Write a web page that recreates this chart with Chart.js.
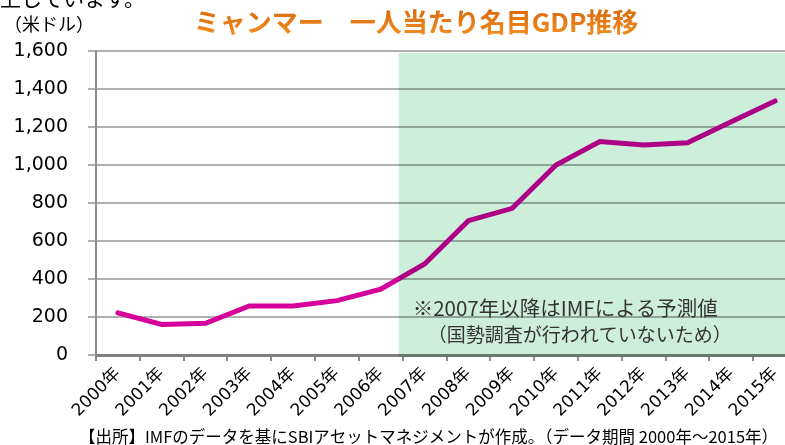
<!DOCTYPE html>
<html lang="ja">
<head>
<meta charset="utf-8">
<script src="https://cdn.jsdelivr.net/npm/chart.js@4.4.1/dist/chart.umd.min.js"></script>
<style>
    html, body { margin: 0; padding: 0; background: #FFFFFF; overflow: hidden; }
    #wrap { width: 785px; height: 445px; overflow: hidden; }
</style>
</head>
<body>
<div id="wrap"><canvas id="gdpChart" width="800" height="445"></canvas></div>
<script>
// =====================================================
// Data: Myanmar nominal GDP per capita (USD)
// =====================================================

const years = [2000, 2001, 2002, 2003, 2004, 2005, 2006, 2007,
               2008, 2009, 2010, 2011, 2012, 2013, 2014, 2015];
const yearLabels = years.map(y => y + '年');
const gdpPerCapita = [222, 161, 167, 258, 258, 286, 347, 479,
                      707, 772, 1000, 1123, 1105, 1117, 1228, 1337];
const yTicks = [0, 200, 400, 600, 800, 1000, 1200, 1400, 1600];
const forecastFrom = '2007年';

const titleText = 'ミャンマー　一人当たり名目GDP推移';
const unitText = '（米ドル）';
const noteLines = ['※2007年以降はIMFによる予測値', '（国勢調査が行われていないため）'];
const sourceText = '【出所】IMFのデータを基にSBIアセットマネジメントが作成。（データ期間 2000年～2015年）';
const clippedText = '上しています。';

const CJK = '"Noto Sans CJK JP", "Noto Sans", sans-serif';
const NUM = '"DejaVu Sans", "Noto Sans CJK JP", sans-serif';

// =====================================================
// Plugins: forecast shading + texts
// =====================================================

const forecastShade = {
    id: 'forecastShade',
    afterDatasetsDraw(chart) {
        const { ctx, scales: { x, y } } = chart;
        const idx = yearLabels.indexOf(forecastFrom);
        const half = (x.getPixelForValue(1) - x.getPixelForValue(0)) / 2;
        const left = x.getPixelForValue(idx) - half - 4;
        const top = y.getPixelForValue(yTicks[yTicks.length - 1]) + 2;
        const bottom = y.getPixelForValue(0) + 2;
        ctx.save();
        ctx.globalCompositeOperation = 'multiply';
        ctx.fillStyle = '#CEEEDC';
        ctx.fillRect(left, top, chart.width - left, bottom - top);
        ctx.restore();

        // note text
        ctx.save();
        ctx.fillStyle = '#333333';
        ctx.textBaseline = 'middle';
        ctx.font = '20.5px ' + CJK;
        ctx.fillText(noteLines[0], left + 14, 308);
        ctx.font = '19px ' + CJK;
        ctx.fillText(noteLines[1], left + 29, 335);
        ctx.restore();
    }
};

const headerFooter = {
    id: 'headerFooter',
    afterDraw(chart) {
        const { ctx } = chart;
        ctx.save();
        // clipped sentence from the page above
        ctx.fillStyle = '#000000';
        ctx.font = '21px ' + CJK;
        ctx.textBaseline = 'alphabetic';
        ctx.fillText(clippedText, 0, 6);

        // unit
        ctx.font = '18px ' + CJK;
        ctx.textBaseline = 'middle';
        ctx.fillText(unitText, 4, 24);

        // title
        const grad = ctx.createLinearGradient(0, 8, 0, 36);
        grad.addColorStop(0, '#D8680A');
        grad.addColorStop(1, '#F28E22');
        ctx.fillStyle = grad;
        ctx.font = 'bold 26px ' + CJK;
        ctx.textAlign = 'center';
        ctx.fillText(titleText, 416, 22);

        // source
        ctx.fillStyle = '#000000';
        ctx.font = '16.5px ' + CJK;
        ctx.textAlign = 'left';
        ctx.fillText(sourceText, 79, 437);
        ctx.restore();
    }
};

// =====================================================
// Chart
// =====================================================

function initGdpChart() {
    const ctx = document.getElementById('gdpChart');
    if (!ctx) return;

    return new Chart(ctx, {
        type: 'line',
        data: {
            labels: yearLabels,
            datasets: [{
                label: '一人当たり名目GDP',
                data: gdpPerCapita,
                borderColor: '#D6009A',
                borderWidth: 5,
                borderCapStyle: 'round',
                borderJoinStyle: 'miter',
                tension: 0,
                pointRadius: 0,
                fill: false
            }]
        },
        options: {
            responsive: false,
            animation: false,
            devicePixelRatio: 1,
            layout: { padding: { top: 51, right: 3, left: 0, bottom: 0 } },
            plugins: {
                legend: { display: false },
                tooltip: { enabled: false }
            },
            scales: {
                x: {
                    offset: true,
                    grid: {
                        offset: true,
                        drawOnChartArea: false,
                        drawTicks: true,
                        tickLength: 6,
                        color: '#8C8C8C',
                        lineWidth: 2
                    },
                    border: { color: '#808080', width: 3 },
                    ticks: {
                        autoSkip: false,
                        minRotation: 45,
                        maxRotation: 45,
                        padding: 3,
                        color: '#000000',
                        font: { family: NUM, size: 17 }
                    },
                    afterFit(scale) { scale.height = 90; }
                },
                y: {
                    min: 0,
                    max: 1600,
                    afterBuildTicks(scale) {
                        scale.ticks = yTicks.map(v => ({ value: v }));
                    },
                    grid: {
                        color: '#B0B0B0',
                        lineWidth: 2,
                        tickLength: 8
                    },
                    border: { color: '#8C8C8C', width: 2 },
                    ticks: {
                        padding: 20,
                        color: '#000000',
                        font: { family: NUM, size: 19 },
                        callback: value => value.toLocaleString('en-US')
                    },
                    afterFit(scale) { scale.width = 96; }
                }
            }
        },
        plugins: [forecastShade, headerFooter]
    });
}

initGdpChart();
</script>
</body>
</html>
